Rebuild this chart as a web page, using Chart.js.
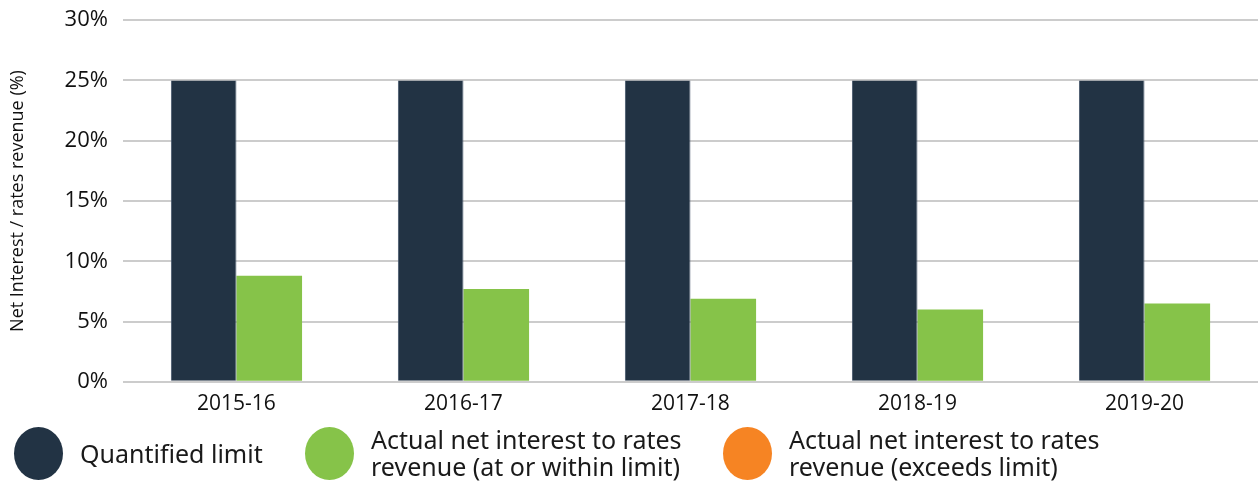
<!DOCTYPE html>
<html>
<head>
<meta charset="utf-8">
<script src="https://cdn.jsdelivr.net/npm/chart.js@4/dist/chart.umd.min.js"></script>
<style>
  html, body { margin: 0; padding: 0; background: #fff; }
  #wrap { position: relative; width: 1258px; height: 482px; overflow: hidden; }
  #chart { position: absolute; left: 0; top: -8px; }
  .legend { position: absolute; top: 425px; left: 0; width: 1258px; height: 56px;
            font-family: "Noto Sans", "Open Sans", sans-serif; font-size: 25px; color: #1a1a1a; }
  .item { position: absolute; top: 0; height: 56px; display: flex; align-items: center; }
  .dot { width: 49px; height: 53px; border-radius: 50%; margin-right: 17px; flex: none; }
  .txt { line-height: 27px; }
</style>
</head>
<body>
<div id="wrap">
  <canvas id="chart" width="1258" height="490"></canvas>
  <div class="legend" id="legend"></div>
</div>
<script>
// Financial years
const categories = ["2015-16", "2016-17", "2017-18", "2018-19", "2019-20"];
// Quantified limit (%)
const limitValues = [25, 25, 25, 25, 25];
// Actual net interest to rates revenue, at or within limit (%)
const actualWithin = [8.8, 7.7, 6.9, 6.0, 6.5];
// Actual net interest to rates revenue, exceeding limit (%) — none in these years
const actualExceeds = [null, null, null, null, null];
const yTicks = [0, 5, 10, 15, 20, 25, 30];

const seriesNames = [
  "Quantified limit",
  "Actual net interest to rates revenue (at or within limit)",
  "Actual net interest to rates revenue (exceeds limit)"
];
const legendLines = [
  ["Quantified limit"],
  ["Actual net interest to rates", "revenue (at or within limit)"],
  ["Actual net interest to rates", "revenue (exceeds limit)"]
];
const colors = ["#223344", "#86c349", "#f68423"];

const ctx = document.getElementById("chart").getContext("2d");
new Chart(ctx, {
  type: "bar",
  data: {
    labels: categories,
    datasets: [
      { label: seriesNames[0], data: limitValues, backgroundColor: colors[0],
        borderColor: "#44556a", borderWidth: { left: 1, right: 1, top: 0, bottom: 0 } },
      { label: seriesNames[1], data: actualWithin, backgroundColor: colors[1], borderWidth: 0 },
      { label: seriesNames[2], data: actualExceeds, backgroundColor: colors[2], borderWidth: 0 }
    ]
  },
  options: {
    responsive: false,
    animation: false,
    skipNull: true,
    layout: { padding: { top: 0, right: 0, bottom: 55, left: 7 } },
    datasets: { bar: { categoryPercentage: 0.578, barPercentage: 1.0 } },
    plugins: { legend: { display: false }, tooltip: { enabled: false } },
    scales: {
      x: {
        grid: { display: false, drawTicks: false },
        border: { display: false },
        ticks: { color: "#111", padding: 10, font: { family: "Open Sans", size: 21 } }
      },
      y: {
        min: 0, max: 30,
        afterBuildTicks: (axis) => { axis.ticks = yTicks.map(v => ({ value: v })); },
        grid: { color: "#cccccc", lineWidth: 2, drawTicks: false },
        border: { display: false },
        ticks: { color: "#111", padding: 15, callback: v => v + "%",
                 font: { family: "Open Sans", size: 22 } },
        title: { display: true, text: "Net Interest / rates revenue (%)", color: "#111",
                 padding: { top: 0, bottom: 21 }, font: { family: "Open Sans", size: 18 } }
      }
    }
  }
});

// Legend drawn as HTML so the two-line labels wrap as shown
const legendEl = document.getElementById("legend");
const lefts = [14, 305, 723];
legendLines.forEach((lines, i) => {
  const item = document.createElement("div");
  item.className = "item";
  item.style.left = lefts[i] + "px";
  const dot = document.createElement("div");
  dot.className = "dot";
  dot.style.background = colors[i];
  const txt = document.createElement("div");
  txt.className = "txt";
  txt.innerHTML = lines.join("<br>");
  item.appendChild(dot);
  item.appendChild(txt);
  legendEl.appendChild(item);
});
</script>
</body>
</html>
